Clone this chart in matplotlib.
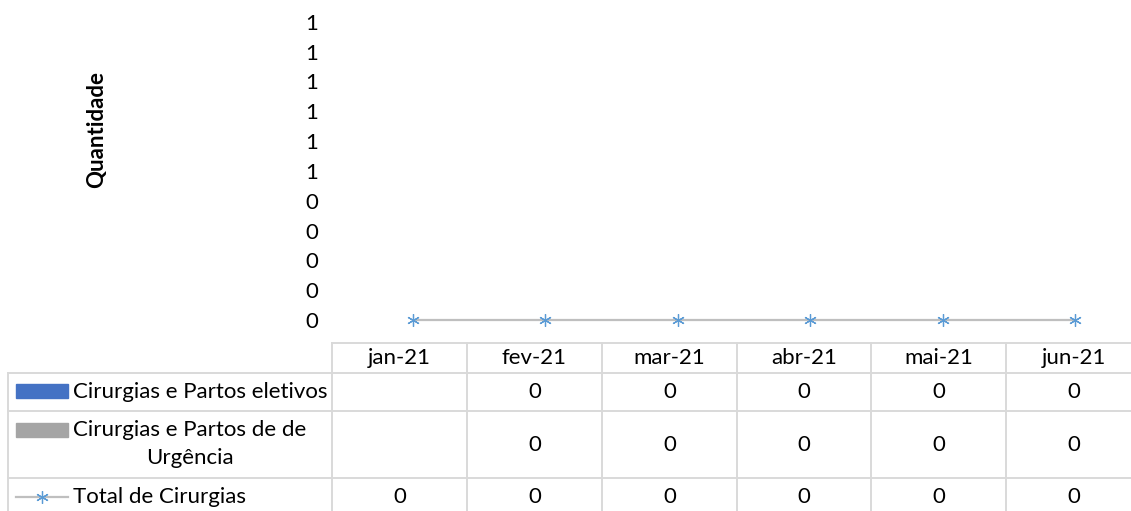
import matplotlib.pyplot as plt
import numpy as np
from matplotlib.ticker import FuncFormatter

plt.rcParams['font.family'] = ['Lato', 'DejaVu Sans']

meses = ["jan-21", "fev-21", "mar-21", "abr-21", "mai-21", "jun-21"]
eletivos = [None, 0, 0, 0, 0, 0]
urgencia = [None, 0, 0, 0, 0, 0]
total = [0, 0, 0, 0, 0, 0]
nomes = ["Cirurgias e Partos eletivos", "Cirurgias e Partos de de\nUrgência", "Total de Cirurgias"]

cor_azul = "#4472C4"
cor_cinza = "#A5A5A5"
cor_marker = "#5B9BD5"
cor_linha = "#BFBFBF"
cor_grade = "#D9D9D9"

W, H = 1131, 511
fig = plt.figure(figsize=(W / 100, H / 100), dpi=100)

# plot area (pixel positions of the original Excel chart)
x0, x1 = 332, 1141
y0, y1 = 320, 21.7
ax = fig.add_axes([x0 / W, (H - y0) / H, (x1 - x0) / W, (y0 - y1) / H])
xs = np.arange(len(meses))
e = np.array([np.nan if v is None else v for v in eletivos], dtype=float)
u = np.array([np.nan if v is None else v for v in urgencia], dtype=float)
ax.bar(xs, e, width=0.5, color=cor_azul)
ax.bar(xs, u, width=0.5, bottom=np.nan_to_num(e), color=cor_cinza)
ax.plot(xs, total, color=cor_linha, lw=1.6, marker=(6, 2, 0), markersize=9,
        markeredgecolor=cor_marker, markeredgewidth=0.9, clip_on=False, zorder=3)

# x: first category at 413 px, spacing 132.4 px
esp = 132.4
ax.set_xlim(-(413 - x0) / esp, (x1 - 413) / esp)
ax.set_ylim(0, 1)
ax.set_yticks(np.linspace(0, 1, 11))
ax.yaxis.set_major_formatter(FuncFormatter(lambda v, p: str(int(np.floor(v + 0.5 + 1e-9)))))
ax.tick_params(axis='y', length=0, pad=10, labelsize=16)
ax.set_xticks([])
for s in ax.spines.values():
    s.set_visible(False)
ax.patch.set_alpha(0)

fig.text(97 / W, 1 - 130 / H, "Quantidade", rotation=90, ha='center', va='center',
         fontsize=16, fontweight='bold')

# data table drawn in pixel coordinates
tb = fig.add_axes([0, 0, 1, 1])
tb.set_xlim(0, W)
tb.set_ylim(H, 0)
tb.axis('off')

col_lim = [332, 467, 602, 737, 871, 1006, 1141]
lw = 1.4
tb.plot([332, W], [343, 343], color=cor_grade, lw=lw)
for yy in [373, 411, 478]:
    tb.plot([8, W], [yy, yy], color=cor_grade, lw=lw)
tb.plot([8, 8], [373, H], color=cor_grade, lw=lw)
for xx in col_lim[:-1]:
    tb.plot([xx, xx], [343, H], color=cor_grade, lw=lw)

fs = 16
centros = [(col_lim[i] + col_lim[i + 1]) / 2 for i in range(len(meses))]
for c, m in zip(centros, meses):
    tb.text(c, 358, m, ha='center', va='center', fontsize=fs)

linhas_y = [392, 445, 497]
for yy, serie in zip(linhas_y, [eletivos, urgencia, total]):
    for c, v in zip(centros, serie):
        if v is not None:
            tb.text(c, yy, str(v), ha='center', va='center', fontsize=fs)

# legend keys
tb.add_patch(plt.Rectangle((16, 384), 52, 14, color=cor_azul))
tb.add_patch(plt.Rectangle((16, 423), 52, 14, color=cor_cinza))
tb.plot([16, 68], [497, 497], color=cor_linha, lw=1.6)
tb.plot([42], [497], marker=(6, 2, 0), markersize=9, markeredgecolor=cor_marker,
        markeredgewidth=0.9, color=cor_marker)

tb.text(73, 392, nomes[0], ha='left', va='center', fontsize=fs)
tb.text(73, 444, nomes[1], ha='left', va='center', fontsize=fs,
        multialignment='center', linespacing=1.45)
tb.text(73, 497, nomes[2], ha='left', va='center', fontsize=fs)

fig.savefig("out.png", dpi=100)
